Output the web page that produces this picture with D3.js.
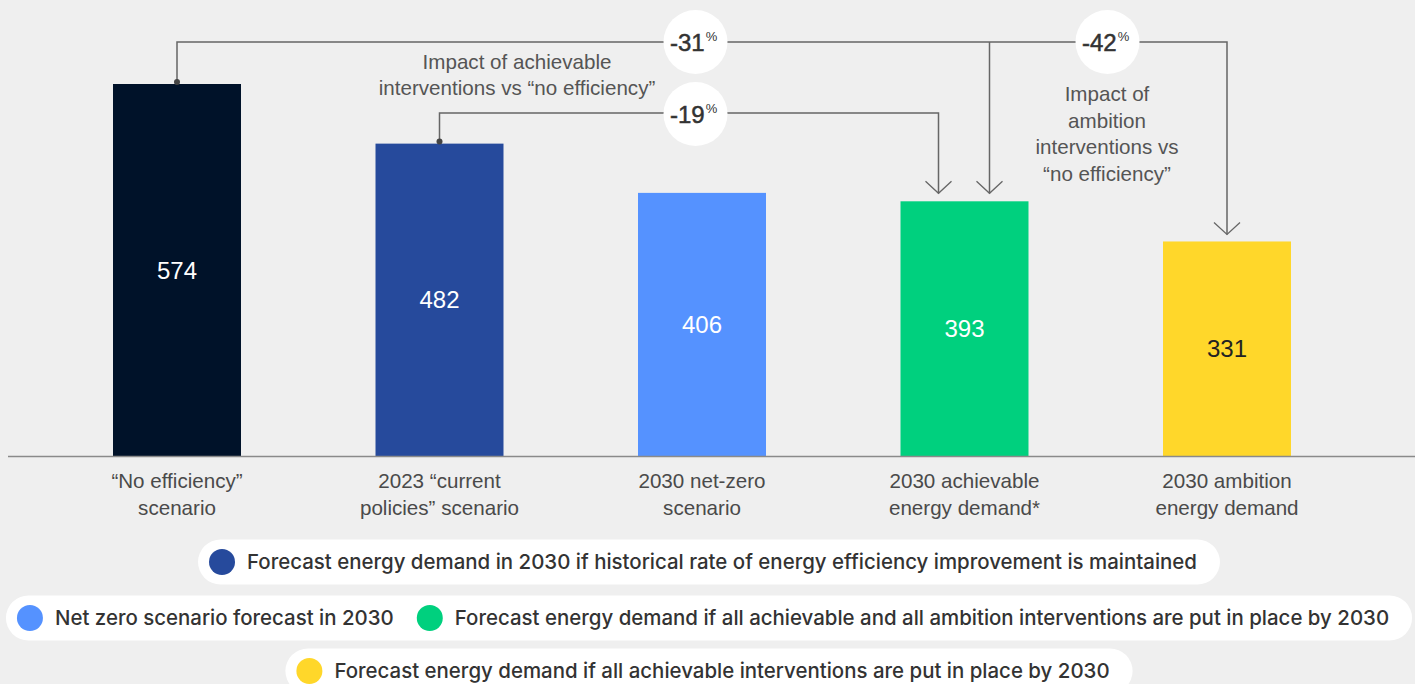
<!DOCTYPE html>
<html>
<head>
<meta charset="utf-8">
<script src="https://cdn.jsdelivr.net/npm/d3@7"></script>
<style>
  html, body { margin: 0; padding: 0; background: #efefef; }
  svg { display: block; }
</style>
</head>
<body>
<svg id="chart" width="1415" height="684"></svg>
<script>
// ---------------- DATA ----------------
const categories = [
  ["“No efficiency”", "scenario"],
  ["2023 “current", "policies” scenario"],
  ["2030 net-zero", "scenario"],
  ["2030 achievable", "energy demand*"],
  ["2030 ambition", "energy demand"]
];
const values = [574, 482, 406, 393, 331];
const barColors = ["#001229", "#264a9c", "#5592ff", "#00d07e", "#ffd72a"];
const valueLabelColors = ["#ffffff", "#ffffff", "#ffffff", "#ffffff", "#222222"];

const impactLabels = ["-31", "-19", "-42"];
const impactNotes = [
  ["Impact of achievable", "interventions vs “no efficiency”"],
  ["Impact of", "ambition", "interventions vs", "“no efficiency”"]
];

const legendRows = [
  [{ color: "#264a9c", text: "Forecast energy demand in 2030 if historical rate of energy efficiency improvement is maintained" }],
  [{ color: "#5592ff", text: "Net zero scenario forecast in 2030" },
   { color: "#00d07e", text: "Forecast energy demand if all achievable and all ambition interventions are put in place by 2030" }],
  [{ color: "#ffd72a", text: "Forecast energy demand if all achievable interventions are put in place by 2030" }]
];

// ---------------- CHART ----------------
const svg = d3.select("#chart");
const W = 1415, H = 684;
const FONT = "'Liberation Sans', Arial, Helvetica, sans-serif";
const LFONT_FAMILY = "Inter, 'Liberation Sans', sans-serif";

const x = d3.scaleBand()
  .domain(d3.range(values.length))
  .range([45.75, 1358.25])
  .paddingInner(0.5124)
  .paddingOuter(0.2562);

const baseY = 456;
const y = d3.scaleLinear().domain([0, 574]).range([baseY, 84]);

const cx = i => x(i) + x.bandwidth() / 2;

// bars
svg.append("g").selectAll("rect")
  .data(values)
  .join("rect")
  .attr("x", (d, i) => x(i))
  .attr("y", d => y(d))
  .attr("width", x.bandwidth())
  .attr("height", d => baseY - y(d))
  .attr("fill", (d, i) => barColors[i]);

// value labels
svg.append("g").selectAll("text")
  .data(values)
  .join("text")
  .attr("x", (d, i) => cx(i))
  .attr("y", d => (y(d) + baseY) / 2)
  .attr("dy", "0.36em")
  .attr("text-anchor", "middle")
  .attr("font-family", FONT)
  .attr("font-size", 24)
  .attr("fill", (d, i) => valueLabelColors[i])
  .text(d => d);

// baseline axis
const xAxis = d3.axisBottom(x).tickSize(0).tickFormat("");
const axisG = svg.append("g").attr("transform", `translate(0,${baseY})`).call(xAxis);
axisG.select(".domain").remove();
svg.append("line")
  .attr("x1", 8).attr("x2", W)
  .attr("y1", baseY + 0.5).attr("y2", baseY + 0.5)
  .attr("stroke", "#8a8a8a").attr("stroke-width", 1.5);

// category labels
const catG = svg.append("g");
categories.forEach((lines, i) => {
  const t = catG.append("text")
    .attr("x", cx(i))
    .attr("y", 488)
    .attr("text-anchor", "middle")
    .attr("font-family", FONT)
    .attr("font-size", 20.6)
    .attr("fill", "#4a4a4a");
  lines.forEach((l, k) => {
    t.append("tspan").attr("x", cx(i)).attr("dy", k === 0 ? 0 : 27).text(l);
  });
});

// ---------------- BRACKETS ----------------
const lineColor = "#666";
const ann = svg.append("g");
const topY = 42, midY = 113;
const drop3a = cx(3) - 26, drop3b = cx(3) + 25;

function arrowHead(g, xx, tipY) {
  g.append("path")
    .attr("d", `M${xx - 13},${tipY - 12} L${xx},${tipY} L${xx + 13},${tipY - 12}`)
    .attr("fill", "none").attr("stroke", lineColor).attr("stroke-width", 1.3);
}

ann.append("path")
  .attr("d", `M${cx(0)},${y(values[0]) - 2} V${topY} H${cx(4)} V${y(values[4]) - 7}`)
  .attr("fill", "none").attr("stroke", lineColor).attr("stroke-width", 1.5);
ann.append("path")
  .attr("d", `M${drop3b},${topY} V${y(values[3]) - 8}`)
  .attr("fill", "none").attr("stroke", lineColor).attr("stroke-width", 1.5);
ann.append("path")
  .attr("d", `M${cx(1)},${y(values[1]) - 2} V${midY} H${drop3a} V${y(values[3]) - 8}`)
  .attr("fill", "none").attr("stroke", lineColor).attr("stroke-width", 1.5);

arrowHead(ann, drop3a, y(values[3]) - 8);
arrowHead(ann, drop3b, y(values[3]) - 8);
arrowHead(ann, cx(4), y(values[4]) - 7);

[[cx(0), y(values[0]) - 2], [cx(1), y(values[1]) - 2]].forEach(([px, py]) => {
  ann.append("circle").attr("cx", px).attr("cy", py).attr("r", 3).attr("fill", "#444");
});

const circ = [
  { x: 695.5, y: topY, label: impactLabels[0] },
  { x: 695.5, y: midY + 1, label: impactLabels[1] },
  { x: 1107.5, y: topY, label: impactLabels[2] }
];
circ.forEach(c => {
  ann.append("circle").attr("cx", c.x).attr("cy", c.y).attr("r", 32).attr("fill", "#ffffff");
  const t = ann.append("text")
    .attr("x", c.x - 25.5)
    .attr("y", c.y + 8.5)
    .attr("font-family", FONT)
    .attr("fill", "#333");
  t.append("tspan").attr("font-size", 24).attr("stroke", "#333").attr("stroke-width", 0.5).text(c.label);
  t.append("tspan").attr("font-size", 13).attr("dy", -10).attr("dx", 1).text("%");
});

function note(lines, xx, y0, lh) {
  const t = ann.append("text")
    .attr("text-anchor", "middle")
    .attr("font-family", FONT)
    .attr("font-size", 20.6)
    .attr("fill", "#555");
  lines.forEach((l, k) => {
    t.append("tspan").attr("x", xx).attr("y", y0 + k * lh).text(l);
  });
}
note(impactNotes[0], 517, 69, 26);
note(impactNotes[1], 1107, 101, 26.5);

// ---------------- LEGEND ----------------
const legG = svg.append("g");
const rowYs = [562, 618, 671];
const centerX = 709;
const LFONT = 20.45;
legendRows.forEach((items, r) => {
  const g = legG.append("g");
  const pill = g.append("rect").attr("fill", "#ffffff");
  let cur = 0;
  const parts = [];
  items.forEach((it, k) => {
    if (k > 0) cur += 12;
    const circX = cur + 24;
    const c = g.append("circle").attr("r", 13).attr("fill", it.color).attr("cy", rowYs[r]);
    const t = g.append("text")
      .attr("y", rowYs[r])
      .attr("dy", "0.36em")
      .attr("font-family", LFONT_FAMILY)
      .attr("font-size", LFONT)
      .attr("font-weight", 500)
      .attr("fill", "#333")
      .text(it.text);
    const tw = t.node().getComputedTextLength();
    parts.push({ c, t, circX, textX: circX + 25 });
    cur = circX + 25 + tw;
  });
  const total = cur + 23;
  const x0 = centerX - total / 2;
  parts.forEach(p => {
    p.c.attr("cx", x0 + p.circX);
    p.t.attr("x", x0 + p.textX);
  });
  pill.attr("x", x0).attr("y", rowYs[r] - 22.5).attr("width", total).attr("height", 45)
    .attr("rx", 22.5);
});
</script>
</body>
</html>
